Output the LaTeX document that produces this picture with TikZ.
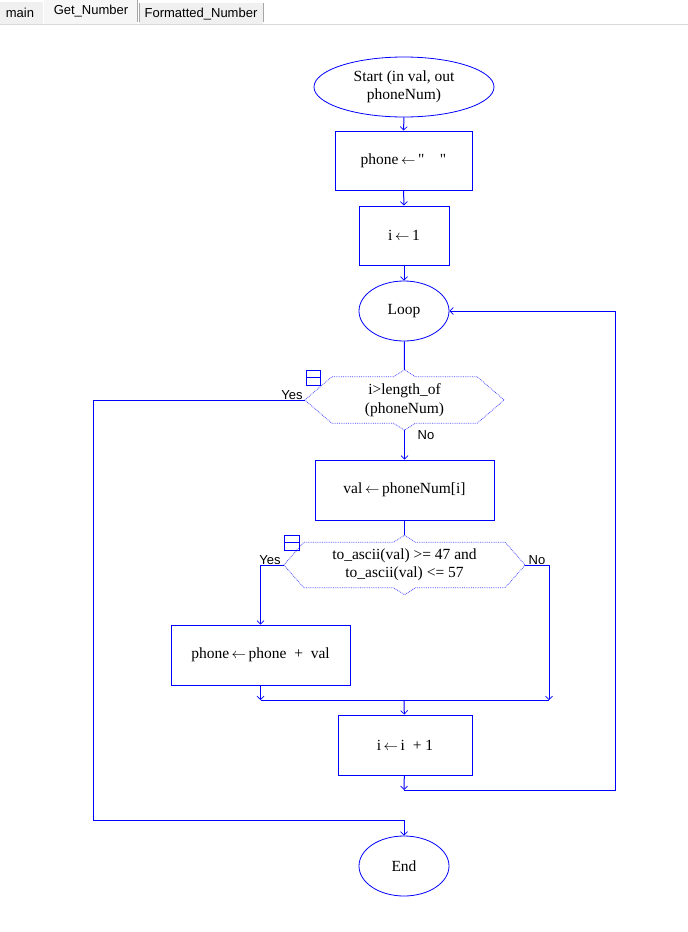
\documentclass[tikz,border=0pt]{standalone}
\usepackage{fontspec}
\setmainfont{Liberation Serif}[Ligatures=TeXOff]
\newfontfamily\tabfont{Liberation Sans}
\usetikzlibrary{shapes.geometric,arrows.meta}
\definecolor{flow}{RGB}{0,0,255}
\definecolor{tabgray}{RGB}{240,240,240}
\newcommand{\getsto}{\,$\leftarrow$\,}

% outline of a decision box: point left and right, notch on top, point below
\newcommand{\decoutline}[2]{%
\draw[decline] (#1.west) -- ([xshift=#2]#1.north west) -- ([xshift=-11pt]#1.north)
  -- ([yshift=7pt]#1.north) -- ([xshift=11pt]#1.north) -- ([xshift=-#2]#1.north east)
  -- (#1.east) -- ([xshift=-#2]#1.south east) -- ([xshift=11pt]#1.south)
  -- ([yshift=-7pt]#1.south) -- ([xshift=-11pt]#1.south) -- ([xshift=#2]#1.south west) -- cycle;}

\begin{document}
\begin{tikzpicture}[x=1pt,y=-1pt,
  every node/.style={font=\fontsize{15.5}{18.5}\selectfont},
  oval/.style={ellipse,draw=flow,line width=0.8pt,inner sep=0pt},
  box/.style={rectangle,draw=flow,line width=1pt,inner sep=0pt},
  dec/.style={rectangle,inner sep=0pt,align=center},
  decline/.style={draw=flow!70,line width=0.8pt,densely dotted},
  link/.style={flow,line width=1pt},
  arr/.style={link,-{Straight Barb[length=3.5pt,width=7pt,line width=0.7pt]}},
  lbl/.style={font=\tabfont\fontsize{13}{15}\selectfont}]
\useasboundingbox (0,0) rectangle (688,932);
\fill[white] (0,0) rectangle (688,932);

% tabs
\fill[tabgray] (0,2) rectangle (43,24);
\fill[tabgray!60] (44,0) rectangle (137,24);
\fill[tabgray] (139,3) rectangle (263,24);
\draw[gray!70] (137,0) -- (137,22);
\draw[gray!70] (139,3) -- (139,22);
\draw[gray!70] (263,3) -- (263,22);
\draw[gray!30] (0,24) -- (688,24);
\node[lbl] (tabmain) at (20,13) {main};
\node[lbl] (tabget) at (91,11) {Get\_Number};
\node[lbl] (tabfmt) at (201,14) {Formatted\_Number};

% flowchart nodes
\node[oval,minimum width=180,minimum height=60,align=center] (start) at (404,87) {Start (in val, out\\phoneNum)};
\node[box,minimum width=137,minimum height=59] (init) at (403.5,160.5) {phone\getsto"~~~~"};
\node[box,minimum width=90,minimum height=59] (ione) at (404,235.5) {i\getsto 1};
\node[oval,minimum width=90,minimum height=60] (loop) at (404,311) {Loop};
\node[dec,minimum width=199,minimum height=46] (done) at (404.5,400) {i>length\_of\\(phoneNum)};
\node[box,minimum width=179,minimum height=60] (getval) at (404.5,490) {val\getsto phoneNum[i]};
\node[dec,minimum width=241,minimum height=45] (isdig) at (404.5,565) {to\_ascii(val) >= 47 and\\to\_ascii(val) <= 57};
\node[box,minimum width=179,minimum height=60] (append) at (260.5,655) {phone\getsto phone~ +~ val};
\node[box,minimum width=134,minimum height=60] (inc) at (405,745) {i\getsto i~ + 1};
\node[oval,minimum width=90,minimum height=60] (end) at (404,866) {End};

\decoutline{done}{27pt}
\decoutline{isdig}{20pt}

% collapse boxes
\draw[flow,line width=1pt] (306,370) rectangle (320,385) (306,377.5) -- (320,377.5);
\draw[flow,line width=1pt] (284,535) rectangle (299,550) (284,542.5) -- (299,542.5);

% labels
\node[lbl] (yes1) at (292,395) {Yes};
\node[lbl] (no1) at (426,435) {No};
\node[lbl] (yes2) at (270,560) {Yes};
\node[lbl] (no2) at (537,560) {No};

\coordinate (join) at (404,700);
\coordinate (back) at (404,790);

% connectors
\draw[arr] (start) -- (init);
\draw[arr] (init) -- (ione);
\draw[arr] (ione) -- (loop);
\draw[link] (loop) -- ([yshift=7pt]done.north);
\draw[arr] ([yshift=-7pt]done.south) -- (getval);
\draw[link] (getval) -- ([yshift=7pt]isdig.north);
\draw[arr] (isdig.west) -- (append.north |- isdig.west) -- (append);
\draw[arr] (append) -- (append |- join);
\draw[arr] (isdig.east) -- (549,565) -- (549,700);
\draw[link] (append |- join) -- (549,700);
\draw[arr] (join) -- (inc);
\draw[arr] (inc) -- (back);
\draw[arr] (back) -- (615,790) -- (615,311) -- (loop.east);
\draw[arr] (done.west) -- (93,400) -- (93,820) -- (404,820) -- (end);
\end{tikzpicture}
\end{document}
